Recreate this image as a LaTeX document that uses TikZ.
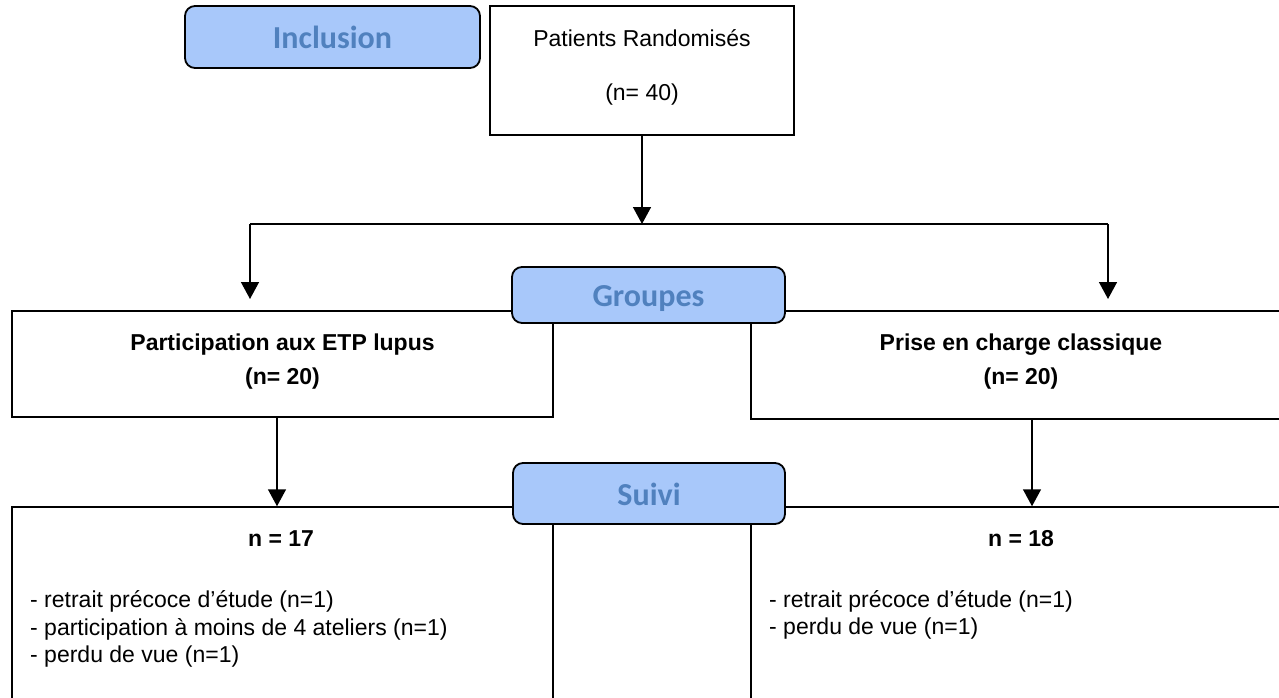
\documentclass[tikz,border=0pt]{standalone}
\usepackage{fontspec}
\setmainfont{Liberation Sans}
\newfontfamily\labfont{Carlito}
\usetikzlibrary{arrows.meta}
\definecolor{labfill}{RGB}{168,200,250}
\definecolor{labtext}{RGB}{80,129,190}
\begin{document}
\begin{tikzpicture}[x=1pt,y=-1pt,
  box/.style={draw, line width=1.5pt, inner sep=0pt, fill=white},
  lab/.style={draw, line width=1.8pt, fill=labfill, rounded corners=10pt, inner sep=0pt,
    text height=23pt, text depth=0pt,
    font=\labfont\bfseries\fontsize{32}{36}\selectfont, text=labtext},
  txt/.style={inner sep=0pt, font=\fontsize{23}{28}\selectfont},
  btxt/.style={inner sep=0pt, font=\bfseries\fontsize{23}{34}\selectfont},
  conn/.style={line width=1.5pt},
  arr/.style={line width=1.5pt, -{Triangle[length=17pt,width=18pt]}}]
\path[use as bounding box] (0,0) rectangle (1279,698);
\clip (0,0) rectangle (1279,698);
% top
\node[lab, minimum width=295pt, minimum height=62pt] (incl) at (332.5,37) {Inclusion};
\node[box, minimum width=304pt, minimum height=129pt] (pat) at (642,70.5) {};
\node[txt] (pat1) at (642,38) {Patients Randomisés};
\node[txt] (pat2) at (642,95) {(n= 40)};
% junction
\coordinate (j) at (642,224);
\coordinate (jl) at (250,224);
\coordinate (jr) at (1108,224);
\coordinate (tl) at (250,299);
\coordinate (tr) at (1108,299);
\draw[conn] (jl) -- (jr);
\draw[arr] (pat.south) -- (j);
\draw[arr] (jl) -- (tl);
\draw[arr] (jr) -- (tr);
% groups
\node[box, minimum width=541pt, minimum height=106pt] (L1) at (282.5,364) {};
\node[box, minimum width=540pt, minimum height=108pt] (R1) at (1021,365) {};
\node[btxt, align=center] (L1t) at (282.5,362) {Participation aux ETP lupus\\(n= 20)};
\node[btxt, align=center] (R1t) at (1021,362) {Prise en charge classique\\(n= 20)};
\node[lab, minimum width=273pt, minimum height=56pt] (grp) at (648.5,295) {Groupes};
% follow-up
\node[box, minimum width=541pt, minimum height=253pt] (L2) at (282.5,633.5) {};
\node[box, minimum width=540pt, minimum height=253pt] (R2) at (1021,633.5) {};
\draw[arr] ([xshift=-5.5pt]L1.south) -- ([xshift=-5.5pt]L1.south |- L2.north);
\draw[arr] ([xshift=11pt]R1.south) -- ([xshift=11pt]R1.south |- R2.north);
\node[lab, minimum width=272pt, minimum height=61pt] (suivi) at (649,493.5) {Suivi};
\node[btxt] (n17) at (281,539) {n = 17};
\node[btxt] (n18) at (1021,539) {n = 18};
\node[txt, anchor=west] (l1) at (30,601) {- retrait précoce d’étude (n=1)};
\node[txt, anchor=west] (l2) at (30,629) {- participation à moins de 4 ateliers (n=1)};
\node[txt, anchor=west] (l3) at (30,657) {- perdu de vue (n=1)};
\node[txt, anchor=west] (r1) at (769,601) {- retrait précoce d’étude (n=1)};
\node[txt, anchor=west] (r2) at (769,629) {- perdu de vue (n=1)};
\end{tikzpicture}
\end{document}
